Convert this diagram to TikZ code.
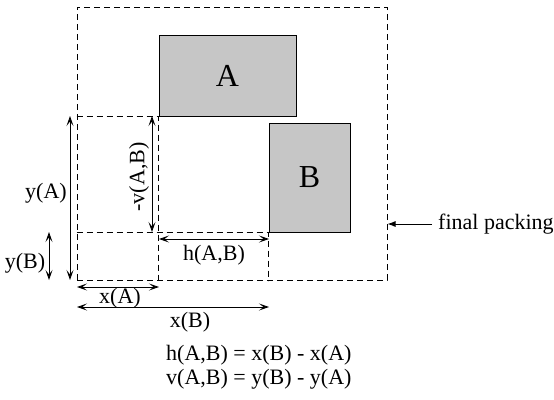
\documentclass[tikz,border=0pt]{standalone}
\usepackage{fontspec}
\setmainfont{Liberation Serif}
\usetikzlibrary{arrows.meta}
\begin{document}
\begin{tikzpicture}[x=1pt, y=-1pt,
        block/.style={rectangle, draw, fill=gray!45, line width=1pt, inner sep=0pt, font=\fontsize{32}{38}\selectfont},
        guide/.style={dash pattern=on 6pt off 4pt, line width=1pt},
        dim/.style={{Stealth[length=10pt,width=7pt,inset=4.5pt]}-{Stealth[length=10pt,width=7pt,inset=4.5pt]}, line width=0.9pt},
        lbl/.style={font=\fontsize{22}{26}\selectfont, inner sep=1pt}
    ]
        \useasboundingbox (0,0) rectangle (554,399);

        % Final packing
        \node[guide, draw, minimum width=310pt, minimum height=273pt] (pack) at (232,143.5) {};

        % Blocks
        \node[block, minimum width=137pt, minimum height=81pt] (A) at (227.5,75.5) {A};
        \node[block, minimum width=81pt, minimum height=109pt] (B) at (309.5,177.5) {B};

        \draw[guide] (pack.west |- A.south west) -- (A.south west) -- (A.south west |- pack.south);
        \draw[guide] (pack.west |- B.south west) -- (B.south west) -- (B.south west |- pack.south);

        % Vertical distances
        \coordinate (yAt) at (70,116);
        \coordinate (yAb) at (70,280);
        \coordinate (yBt) at (49,232);
        \coordinate (yBb) at (49,280);
        \coordinate (vt) at (152,116);
        \coordinate (vb) at (152,232);

        \draw[dim] (yAt) -- (yAb);
        \draw[dim] (yBt) -- (yBb);
        \draw[dim] (vt) -- (vb);

        \node[lbl] (yA) at (46,193) {y(A)};
        \node[lbl] (yB) at (25,263) {y(B)};
        \node[lbl, rotate=90] (v) at (139,177) {-v(A,B)};

        % Horizontal distances
        \coordinate (hl) at (159,239);
        \coordinate (hr) at (269,239);
        \coordinate (xAl) at (77,287);
        \coordinate (xAr) at (159,287);
        \coordinate (xBl) at (77,307);
        \coordinate (xBr) at (269,307);

        \draw[dim] (hl) -- (hr);
        \draw[dim] (xAl) -- (xAr);
        \draw[dim] (xBl) -- (xBr);

        \node[lbl] (h) at (214,255) {h(A,B)};
        \node[lbl] (xA) at (120,298) {x(A)};
        \node[lbl] (xB) at (190,322) {x(B)};

        % Caption arrow and formulas
        \node[lbl, anchor=west] (fp) at (437,224) {final packing};
        \draw[-{Latex[length=8pt,width=6pt]}, line width=0.9pt] ([xshift=-5pt]fp.west) -- (fp.west -| pack.east);

        \node[lbl, anchor=west] (eqh) at (165,355) {h(A,B) = x(B) - x(A)};
        \node[lbl, anchor=west] (eqv) at (165,379) {v(A,B) = y(B) - y(A)};
    \end{tikzpicture}
\end{document}
